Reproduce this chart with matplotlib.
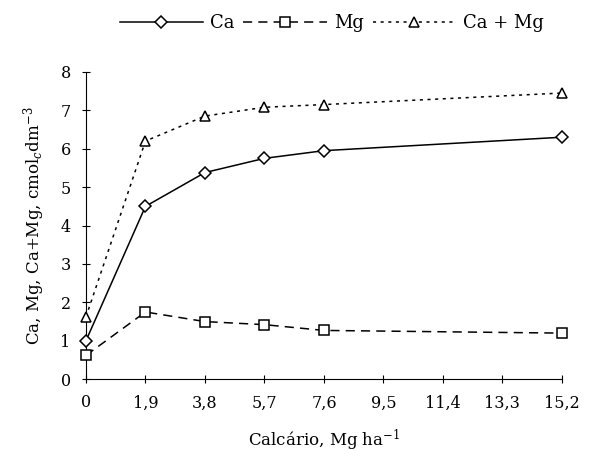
import matplotlib
matplotlib.use("Agg")
import matplotlib.pyplot as plt

x = [0, 1.9, 3.8, 5.7, 7.6, 15.2]
ca = [1.0, 4.5, 5.38, 5.75, 5.95, 6.3]
mg = [0.62, 1.75, 1.5, 1.42, 1.27, 1.2]
camg = [1.62, 6.2, 6.85, 7.08, 7.15, 7.45]
xticks = [0, 1.9, 3.8, 5.7, 7.6, 9.5, 11.4, 13.3, 15.2]
xticklabels = ["0", "1,9", "3,8", "5,7", "7,6", "9,5", "11,4", "13,3", "15,2"]
yticks = list(range(0, 9))

plt.rcParams['font.family'] = ['DejaVu Serif']
plt.rcParams['mathtext.fontset'] = 'dejavuserif'

fig = plt.figure(figsize=(6.01, 4.67), dpi=100)
ax = fig.add_axes([0.143, 0.188, 0.792, 0.658])

mk = dict(markersize=7, markerfacecolor='white', markeredgecolor='black', markeredgewidth=1.1, clip_on=False, zorder=3)
ax.plot(x, ca, color='black', linestyle='-', linewidth=1.1, marker='D', label='Ca', **{**mk, 'markersize': 6})
ax.plot(x, mg, color='black', linestyle=(0, (6, 4)), linewidth=1.1, marker='s', label='Mg', **mk)
ax.plot(x, camg, color='black', linestyle=(0, (2, 3)), linewidth=1.1, marker='^', label='Ca + Mg', **mk)

ax.set_xlim(0, 15.2)
ax.set_ylim(0, 8)
ax.set_xticks(xticks)
ax.set_xticklabels(xticklabels)
ax.set_yticks(yticks)
for s in ['top', 'right']:
    ax.spines[s].set_visible(False)
ax.tick_params(direction='inout', length=6, labelsize=11.5, pad=8)
ax.set_xlabel('Calcário, Mg ha$^{-1}$', fontsize=12, labelpad=12)
ax.set_ylabel('Ca, Mg, Ca+Mg, cmol$_c$dm$^{-3}$', fontsize=12, labelpad=10)

fig.legend(loc='upper center', bbox_to_anchor=(0.552, 1.005), ncol=3, frameon=False,
           fontsize=13, handlelength=4.6, columnspacing=0.5, handletextpad=0.4)

fig.savefig('out.png', dpi=100)
